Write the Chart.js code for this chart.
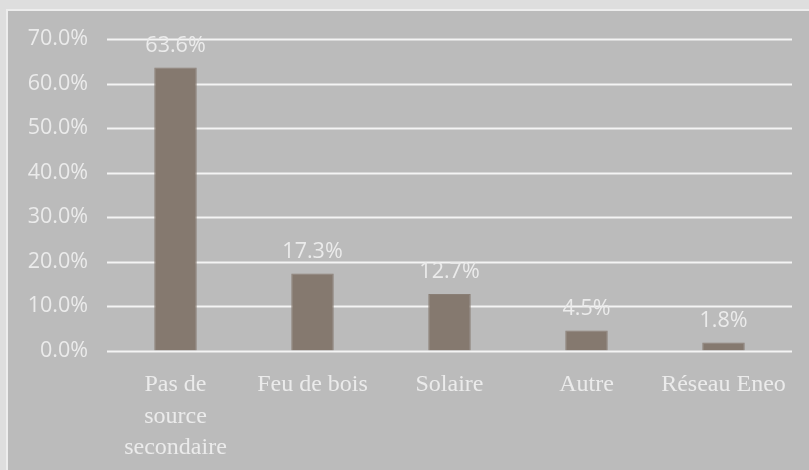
<!DOCTYPE html>
<html>
<head>
<meta charset="utf-8">
<script src="https://cdn.jsdelivr.net/npm/chart.js@4/dist/chart.umd.min.js"></script>
<style>
  html, body { margin: 0; padding: 0; background: #dedede; }
  #panel {
    position: absolute; left: 6px; top: 9px; width: 803px; height: 461px;
    background: #bbbbbb; border-left: 2px solid #ededed; border-top: 2px solid #ededed;
    box-sizing: border-box;
  }
  #chart { position: absolute; left: 0; top: 0; }
</style>
</head>
<body>
<div id="panel"></div>
<canvas id="chart" width="809" height="470"></canvas>
<script>
// data
const categories = [["Pas de", "source", "secondaire"], "Feu de bois", "Solaire", "Autre", "Réseau Eneo"];
const shares = [63.6, 17.3, 12.7, 4.5, 1.8];
const yMin = 0, yMax = 70, yStep = 10;

const sansFont = "'Open Sans', 'Liberation Sans', sans-serif";
const serifFont = "'Liberation Serif', 'DejaVu Serif', serif";
const textColor = "#ebebeb";

// horizontal grid lines, kept inside the plot area
const gridLines = {
  id: "gridLines",
  beforeDatasetsDraw(chart) {
    const ctx = chart.ctx;
    const area = chart.chartArea;
    const y = chart.scales.y;
    ctx.save();
    ctx.strokeStyle = "#f4f4f4";
    ctx.lineWidth = 2;
    y.ticks.forEach((t) => {
      const py = Math.round(y.getPixelForValue(t.value)) + 0.5;
      ctx.beginPath();
      ctx.moveTo(area.left, py);
      ctx.lineTo(area.right, py);
      ctx.stroke();
    });
    ctx.restore();
  }
};

// value labels above the bars
const barLabels = {
  id: "barLabels",
  afterDatasetsDraw(chart) {
    const ctx = chart.ctx;
    const meta = chart.getDatasetMeta(0);
    ctx.save();
    ctx.font = "21.5px " + sansFont;
    ctx.fillStyle = textColor;
    ctx.textAlign = "center";
    ctx.textBaseline = "middle";
    meta.data.forEach((bar, i) => {
      ctx.fillText(shares[i].toFixed(1) + "%", bar.x, bar.y - 22);
    });
    ctx.restore();
  }
};

new Chart(document.getElementById("chart"), {
  type: "bar",
  data: {
    labels: categories,
    datasets: [{
      data: shares,
      backgroundColor: "#85796f",
      borderColor: "#8a7f76",
      borderWidth: 1,
      categoryPercentage: 1,
      barPercentage: 0.31
    }]
  },
  options: {
    responsive: false,
    animation: false,
    devicePixelRatio: 1,
    layout: { padding: { left: 27, right: 17, top: 39, bottom: 4 } },
    plugins: { legend: { display: false }, tooltip: { enabled: false } },
    scales: {
      y: {
        min: yMin,
        max: yMax,
        afterFit: (s) => { s.width = 80; },
        ticks: {
          stepSize: yStep,
          padding: 19,
          color: textColor,
          font: { family: sansFont, size: 21.5 },
          callback: (v) => v.toFixed(1) + "%"
        },
        grid: { display: false, drawTicks: false },
        border: { display: false }
      },
      x: {
        afterFit: (s) => { s.height = 115.5; },
        ticks: {
          padding: 19,
          color: textColor,
          maxRotation: 0,
          autoSkip: false,
          font: { family: serifFont, size: 24, lineHeight: 1.3 }
        },
        grid: { display: false, drawTicks: false },
        border: { display: false }
      }
    }
  },
  plugins: [gridLines, barLabels]
});
</script>
</body>
</html>
